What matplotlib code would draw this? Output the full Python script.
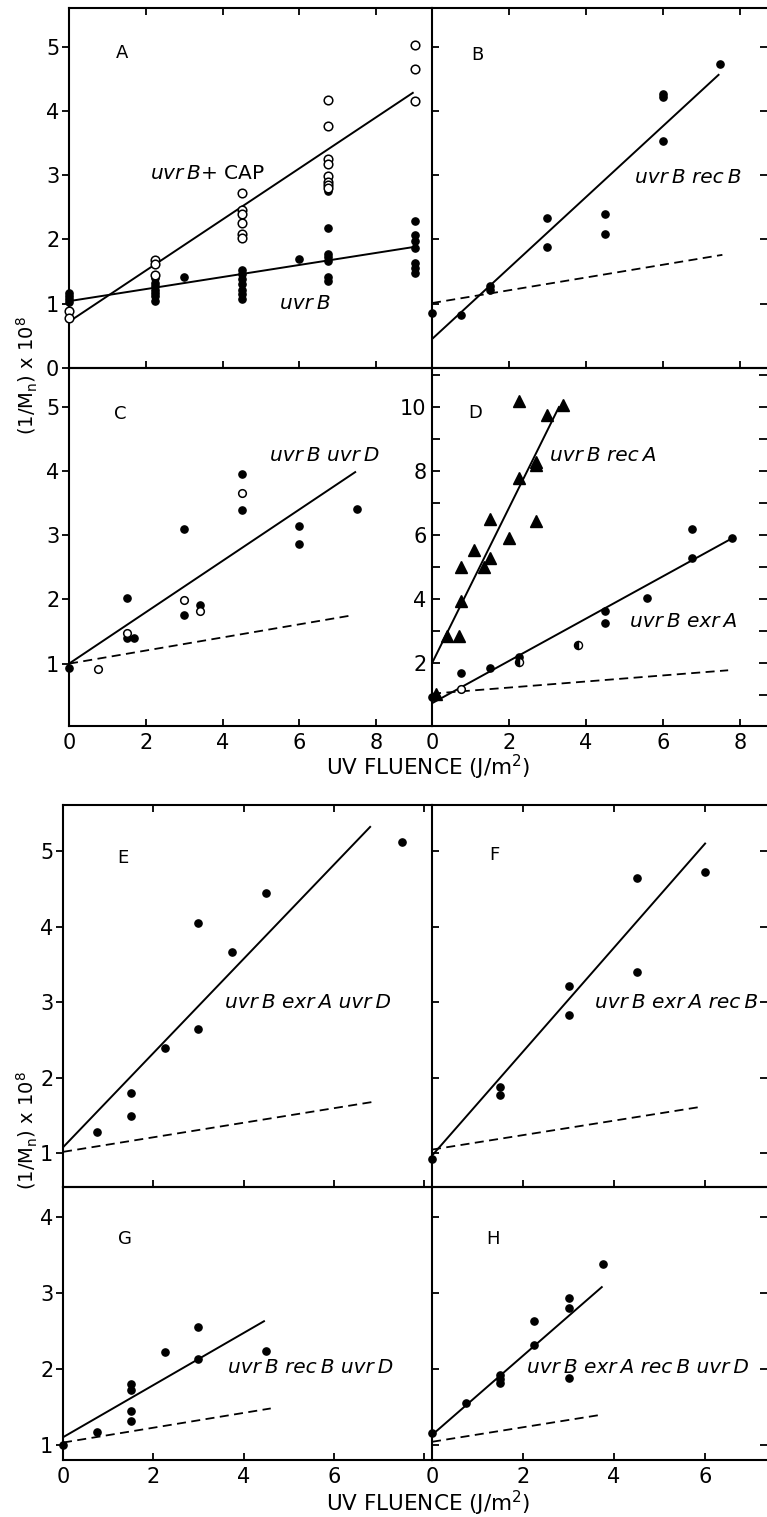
import matplotlib
matplotlib.use("Agg")
import matplotlib.pyplot as plt

W, H = 767, 1517

# ---------------- panel A : uvrB with / without CAP ----------------
a_cap_x = [0, 0, 2.25, 2.25, 2.25, 4.5, 4.5, 4.5, 4.5, 4.5, 4.5,
           6.75, 6.75, 6.75, 6.75, 6.75, 6.75, 6.75, 6.75, 9, 9, 9]
a_cap_y = [0.88, 0.78, 1.68, 1.62, 1.45, 2.72, 2.45, 2.40, 2.25, 2.08, 2.02,
           4.17, 3.77, 3.25, 3.17, 2.98, 2.90, 2.85, 2.80, 5.02, 4.65, 4.15]
a_uvrb_x = [0, 0, 0, 0, 2.25, 2.25, 2.25, 2.25, 2.25, 2.25, 2.25, 3,
            4.5, 4.5, 4.5, 4.5, 4.5, 4.5, 4.5, 6,
            6.75, 6.75, 6.75, 6.75, 6.75, 6.75, 6.75,
            9, 9, 9, 9, 9, 9, 9]
a_uvrb_y = [1.17, 1.12, 1.07, 1.03, 1.40, 1.33, 1.27, 1.22, 1.17, 1.12, 1.05, 1.42,
            1.52, 1.46, 1.38, 1.30, 1.22, 1.15, 1.08, 1.69,
            2.75, 2.18, 1.78, 1.72, 1.66, 1.42, 1.35,
            2.28, 2.07, 1.97, 1.87, 1.64, 1.56, 1.48]
a_cap_fit = ([0, 8.95], [0.72, 4.28])
a_uvrb_fit = ([0, 8.95], [1.04, 1.88])

# ---------------- panel B : uvrB recB ----------------
b_x = [0, 0.75, 1.5, 1.5, 3, 3, 4.5, 4.5, 6, 6, 6, 7.5]
b_y = [0.85, 0.83, 1.28, 1.22, 2.34, 1.88, 2.39, 2.08, 4.26, 4.21, 3.53, 4.73]
b_fit = ([0, 7.45], [0.45, 4.56])
b_ref = ([0, 7.55], [1.01, 1.76])

# ---------------- panel C : uvrB uvrD ----------------
c_x = [0, 1.5, 1.5, 1.7, 3, 3, 3.4, 4.5, 4.5, 6, 6, 7.5]
c_y = [0.93, 2.02, 1.40, 1.40, 3.09, 1.76, 1.91, 3.95, 3.39, 3.14, 2.86, 3.41]
c_open_x = [0.75, 1.5, 3, 3.4, 4.5]
c_open_y = [0.92, 1.48, 1.99, 1.82, 3.66]
c_fit = ([0, 7.45], [1.0, 3.98])
c_ref = ([0, 7.35], [1.0, 1.75])

# ---------------- panel D : uvrB recA and uvrB exrA ----------------
d_reca_x = [0.1, 0.4, 0.7, 0.75, 0.75, 1.1, 1.35, 1.5, 1.5, 2.0, 2.25, 2.25,
            2.7, 2.7, 2.7, 3.0, 3.4]
d_reca_y = [1.05, 2.85, 2.85, 3.95, 5.0, 5.55, 5.0, 5.28, 6.5, 5.9, 7.8, 10.2,
            8.3, 8.2, 6.45, 9.75, 10.05]
d_exra_x = [0, 0.75, 1.5, 2.25, 4.5, 4.5, 5.6, 6.75, 6.75, 7.8]
d_exra_y = [0.95, 1.7, 1.85, 2.2, 3.62, 3.25, 4.05, 6.2, 5.28, 5.9]
d_open_x = [0.75]
d_open_y = [1.18]
d_half_x = [2.25, 3.8]
d_half_y = [2.05, 2.58]
d_reca_fit = ([0, 3.3], [2.0, 10.0])
d_exra_fit = ([0, 7.8], [0.75, 5.9])
d_ref = ([0, 7.7], [1.05, 1.78])

# ---------------- panel E : uvrB exrA uvrD ----------------
e_x = [0.75, 1.5, 1.5, 2.25, 3, 3, 3.75, 4.5, 7.5]
e_y = [1.28, 1.8, 1.5, 2.4, 4.05, 2.65, 3.66, 4.45, 5.12]
e_fit = ([0, 6.8], [1.08, 5.32])
e_ref = ([0, 6.85], [1.02, 1.68])

# ---------------- panel F : uvrB exrA recB ----------------
f_x = [0, 1.5, 1.5, 3, 3, 4.5, 4.5, 6]
f_y = [0.92, 1.88, 1.77, 3.22, 2.83, 4.65, 3.4, 4.72]
f_fit = ([0, 6.0], [0.97, 5.1])
f_ref = ([0, 5.95], [1.05, 1.62])

# ---------------- panel G : uvrB recB uvrD ----------------
g_x = [0, 0.75, 1.5, 1.5, 1.5, 1.5, 2.25, 3, 3, 4.5]
g_y = [1.0, 1.17, 1.8, 1.72, 1.44, 1.32, 2.22, 2.55, 2.13, 2.24]
g_fit = ([0, 4.45], [1.1, 2.63])
g_ref = ([0, 4.6], [1.03, 1.48])

# ---------------- panel H : uvrB exrA recB uvrD ----------------
h_x = [0, 0.75, 1.5, 1.5, 1.5, 2.25, 2.25, 3, 3, 3, 3.75]
h_y = [1.15, 1.55, 1.92, 1.87, 1.82, 2.63, 2.31, 2.93, 2.8, 1.88, 3.38]
h_fit = ([0, 3.73], [1.13, 3.08])
h_ref = ([0, 3.65], [1.04, 1.39])

plt.rcParams['font.family'] = ['DejaVu Sans']
plt.rcParams['mathtext.fontset'] = 'dejavusans'

fig = plt.figure(figsize=(W / 100, H / 100), dpi=100)

LW = 1.4
TICK_FS = 15
LET_FS = 13     # panel letters
LAB_FS = 14.5   # strain names
TS = "\u2009"   # thin space between gene and allele letter


def make_ax(x0, x1, ytop, ybot):
    ax = fig.add_axes([x0 / W, 1 - ybot / H, (x1 - x0) / W, (ybot - ytop) / H])
    for s in ax.spines.values():
        s.set_linewidth(1.5)
    ax.patch.set_alpha(0)
    return ax


def dots(ax, x, y, ms=5.2):
    ax.plot(x, y, 'o', color='black', ms=ms, mec='black', clip_on=False, zorder=4)


def circles(ax, x, y, ms=6.2):
    ax.plot(x, y, 'o', mfc='white', mec='black', mew=1.1, ms=ms, clip_on=False, zorder=5)


def fit(ax, line, dashed=False):
    if dashed:
        ax.plot(line[0], line[1], color='black', lw=1.3, dashes=(5, 3), zorder=3)
    else:
        ax.plot(line[0], line[1], color='black', lw=LW, zorder=3)


def left_style(ax, yticks, labels=True, out=True):
    ax.set_yticks(yticks)
    ax.tick_params(axis='y', which='both', direction='out' if out else 'in',
                   left=True, right=not out, labelleft=labels,
                   labelsize=TICK_FS, length=5, width=1.3, pad=2)


def bottom_style(ax, xticks, labels=None, top=False, bottom=True):
    ax.set_xticks(xticks)
    if labels is not None:
        ax.set_xticklabels(labels)
    ax.tick_params(axis='x', direction='in', top=top, bottom=bottom,
                   labelbottom=labels is not None, labelsize=TICK_FS,
                   length=5, width=1.3, pad=5)


def strain(s):
    # put a thin gap between the gene name and its letter: uvrB -> uvr B
    return " ".join(w[:-1] + TS + w[-1] for w in s.split())


def tag(ax, x, y, s, fs=LAB_FS):
    ax.text(x, y, strain(s), fontsize=fs, style='italic', ha='left', va='center')


def letter(ax, x, y, s):
    ax.text(x, y, s, fontsize=LET_FS, ha='center', va='center')


# ---- top block ----
axA = make_ax(69, 432, 8, 368)
axB = make_ax(432, 767, 8, 368)
axC = make_ax(69, 432, 368, 726)
axD = make_ax(432, 767, 368, 726)

for ax in (axA, axC):
    ax.set_xlim(0, 9.45)
    ax.spines['right'].set_visible(False)
for ax in (axB, axD):
    ax.set_xlim(0, 8.71)
    ax.spines['right'].set_visible(False)

axA.set_ylim(0, 5.6)
axB.set_ylim(0, 5.6)
axC.set_ylim(0.03, 5.6)
axD.set_ylim(0.04, 11.22)

# A
circles(axA, a_cap_x, a_cap_y)
dots(axA, a_uvrb_x, a_uvrb_y)
fit(axA, a_cap_fit)
fit(axA, a_uvrb_fit)
left_style(axA, [0, 1, 2, 3, 4, 5])
bottom_style(axA, [2, 4, 6, 8], top=True)
letter(axA, 1.38, 4.9, "A")
axA.text(2.1, 3.03, r"$\mathit{uvr\,B}$+ CAP", fontsize=LAB_FS, ha='left', va='center')
tag(axA, 5.5, 1.0, "uvrB")

# B
dots(axB, b_x, b_y)
fit(axB, b_fit)
fit(axB, b_ref, dashed=True)
left_style(axB, [1, 2, 3, 4, 5], labels=False, out=False)
bottom_style(axB, [2, 4, 6, 8], top=True)
letter(axB, 1.17, 4.87, "B")
tag(axB, 5.28, 2.97, "uvrB recB")

# C
dots(axC, c_x, c_y)
circles(axC, c_open_x, c_open_y, ms=5.5)
fit(axC, c_fit)
fit(axC, c_ref, dashed=True)
left_style(axC, [1, 2, 3, 4, 5])
bottom_style(axC, [0, 2, 4, 6, 8], labels=['0', '2', '4', '6', '8'])
letter(axC, 1.33, 4.89, "C")
tag(axC, 5.23, 4.24, "uvrB  uvrD")

# D
axD.plot(d_reca_x, d_reca_y, '^', color='black', ms=8, clip_on=False, zorder=4)
dots(axD, d_exra_x, d_exra_y)
circles(axD, d_open_x, d_open_y, ms=5.5)
axD.plot(d_half_x, d_half_y, 'o', ms=5.8, mec='black', mfc='black', mew=1.0,
         fillstyle='left', markerfacecoloralt='white', zorder=5)
fit(axD, d_reca_fit)
fit(axD, d_exra_fit)
fit(axD, d_ref, dashed=True)
axD.set_yticks([2, 4, 6, 8, 10])
axD.set_yticks([1, 3, 5, 7, 9, 11], minor=True)
axD.tick_params(axis='y', which='both', direction='in', left=True, right=True,
                labelleft=True, labelsize=TICK_FS, length=6, width=1.3, pad=4)
bottom_style(axD, [0, 2, 4, 6, 8], labels=['0', '2', '4', '6', '8'])
letter(axD, 1.12, 9.82, "D")
tag(axD, 3.07, 8.5, "uvrB recA")
tag(axD, 5.15, 3.29, "uvrB exrA")

fig.text(428 / W, 1 - 767 / H, "UV FLUENCE (J/m$^2$)", fontsize=15.5,
         ha='center', va='center')
fig.text(27 / W, 1 - 375 / H, r"(1/M$_\mathrm{n}$) x 10$^8$", fontsize=14,
         rotation=90, ha='center', va='center')

# ---- bottom block ----
axE = make_ax(63, 432, 805, 1187)
axF = make_ax(432, 767, 805, 1187)
axG = make_ax(63, 432, 1187, 1460)
axH = make_ax(432, 767, 1187, 1460)

for ax in (axE, axG):
    ax.set_xlim(0, 8.17)
    ax.spines['right'].set_visible(False)
for ax in (axF, axH):
    ax.set_xlim(0, 7.36)
    ax.spines['right'].set_visible(False)
axE.set_ylim(0.555, 5.61)
axF.set_ylim(0.555, 5.61)
axG.set_ylim(0.8, 4.4)
axH.set_ylim(0.8, 4.4)

# E
dots(axE, e_x, e_y)
fit(axE, e_fit)
fit(axE, e_ref, dashed=True)
left_style(axE, [1, 2, 3, 4, 5])
bottom_style(axE, [2, 4, 6, 8], top=True)
letter(axE, 1.33, 4.91, "E")
tag(axE, 3.59, 2.99, "uvrB exrA uvrD")

# F
dots(axF, f_x, f_y)
fit(axF, f_fit)
fit(axF, f_ref, dashed=True)
left_style(axF, [1, 2, 3, 4, 5], labels=False, out=False)
bottom_style(axF, [2, 4, 6], top=True)
letter(axF, 1.38, 4.95, "F")
tag(axF, 3.58, 3.0, "uvrB exrA recB")

# G
dots(axG, g_x, g_y)
fit(axG, g_fit)
fit(axG, g_ref, dashed=True)
left_style(axG, [1, 2, 3, 4])
bottom_style(axG, [0, 2, 4, 6, 8], labels=['0', '2', '4', '6', ''])
letter(axG, 1.37, 3.71, "G")
tag(axG, 3.65, 2.02, "uvrB recB uvrD")

# H
dots(axH, h_x, h_y)
fit(axH, h_fit)
fit(axH, h_ref, dashed=True)
left_style(axH, [1, 2, 3, 4], labels=False, out=False)
bottom_style(axH, [0, 2, 4, 6], labels=['0', '2', '4', '6'])
letter(axH, 1.34, 3.71, "H")
tag(axH, 2.09, 2.02, "uvrB exrA recB uvrD")

fig.text(428 / W, 1 - 1503 / H, "UV FLUENCE (J/m$^2$)", fontsize=15.5,
         ha='center', va='center')
fig.text(27 / W, 1 - 1130 / H, r"(1/M$_\mathrm{n}$) x 10$^8$", fontsize=14,
         rotation=90, ha='center', va='center')

fig.savefig("out.png", dpi=100, facecolor='white')
